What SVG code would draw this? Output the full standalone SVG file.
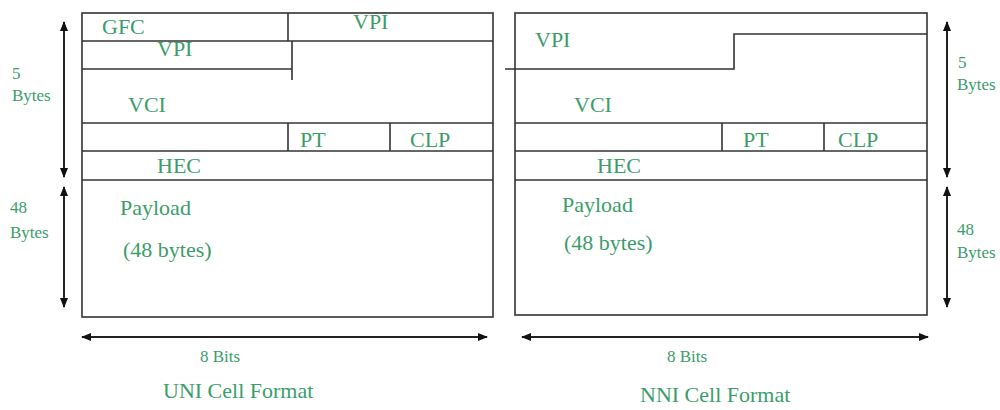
<svg xmlns="http://www.w3.org/2000/svg" width="1000" height="410" viewBox="0 0 1000 410">
<style>
.ln{stroke:#333;stroke-width:1.6;fill:none}
.ar{stroke:#222;stroke-width:2;fill:none}
.t{font-family:"Liberation Serif","DejaVu Serif",serif;fill:#3a9d6a;font-size:22px}
.s{font-family:"Liberation Serif","DejaVu Serif",serif;fill:#3a9d6a;font-size:17px}
.c{font-family:"Liberation Serif","DejaVu Serif",serif;fill:#3a9d6a;font-size:22px}
</style>
<defs>
<marker id="ah" viewBox="0 0 10 10" refX="9" refY="5" markerWidth="5" markerHeight="5" orient="auto-start-reverse" markerUnits="strokeWidth">
<path d="M0,1 L10,5 L0,9 z" fill="#111"/>
</marker>
</defs>
<rect width="1000" height="410" fill="#fff"/>
<g id="uni">
<rect class="ln" x="82" y="13" width="411" height="304"/>
<line class="ln" x1="82" y1="41" x2="493" y2="41"/>
<line class="ln" x1="288" y1="13" x2="288" y2="41"/>
<line class="ln" x1="82" y1="69" x2="292" y2="69"/>
<line class="ln" x1="292" y1="41" x2="292" y2="80"/>
<line class="ln" x1="82" y1="123" x2="493" y2="123"/>
<line class="ln" x1="288" y1="123" x2="288" y2="151"/>
<line class="ln" x1="390" y1="123" x2="390" y2="151"/>
<line class="ln" x1="82" y1="151" x2="493" y2="151"/>
<line class="ln" x1="82" y1="180" x2="493" y2="180"/>
<text class="t" x="102" y="34">GFC</text>
<text class="t" x="353" y="29">VPI</text>
<text class="t" x="157" y="56">VPI</text>
<text class="t" x="128" y="112">VCI</text>
<text class="t" x="300" y="147">PT</text>
<text class="t" x="410" y="147">CLP</text>
<text class="t" x="157" y="173">HEC</text>
<text class="t" x="120" y="215">Payload</text>
<text class="t" x="123" y="257">(48 bytes)</text>
</g>
<g id="nni">
<rect class="ln" x="515" y="13" width="412" height="302"/>
<polyline class="ln" points="505,69 734,69 734,34 927,34"/>
<line class="ln" x1="515" y1="123" x2="927" y2="123"/>
<line class="ln" x1="722" y1="123" x2="722" y2="151"/>
<line class="ln" x1="824" y1="123" x2="824" y2="151"/>
<line class="ln" x1="515" y1="151" x2="927" y2="151"/>
<line class="ln" x1="515" y1="180" x2="927" y2="180"/>
<text class="t" x="535" y="47">VPI</text>
<text class="t" x="574" y="112">VCI</text>
<text class="t" x="743" y="147">PT</text>
<text class="t" x="838" y="147">CLP</text>
<text class="t" x="597" y="173">HEC</text>
<text class="t" x="562" y="212">Payload</text>
<text class="t" x="564" y="250">(48 bytes)</text>
</g>
<g id="connectors">
<line class="ar" x1="64" y1="22" x2="64" y2="177" marker-start="url(#ah)" marker-end="url(#ah)"/>
<line class="ar" x1="64" y1="187" x2="64" y2="307" marker-start="url(#ah)" marker-end="url(#ah)"/>
<line class="ar" x1="947" y1="22" x2="947" y2="177" marker-start="url(#ah)" marker-end="url(#ah)"/>
<line class="ar" x1="947" y1="187" x2="947" y2="307" marker-start="url(#ah)" marker-end="url(#ah)"/>
<line class="ar" x1="82" y1="337" x2="487" y2="337" marker-start="url(#ah)" marker-end="url(#ah)"/>
<line class="ar" x1="522" y1="337" x2="928" y2="337" marker-start="url(#ah)" marker-end="url(#ah)"/>
</g>
<g id="labels">
<text class="s" x="12" y="79">5</text>
<text class="s" x="12" y="101">Bytes</text>
<text class="s" x="10" y="213">48</text>
<text class="s" x="10" y="238">Bytes</text>
<text class="s" x="958" y="68">5</text>
<text class="s" x="957" y="90">Bytes</text>
<text class="s" x="957" y="235">48</text>
<text class="s" x="957" y="258">Bytes</text>
<text class="s" x="200" y="362">8 Bits</text>
<text class="s" x="667" y="362">8 Bits</text>
<text class="c" x="163" y="398">UNI Cell Format</text>
<text class="c" x="640" y="402">NNI Cell Format</text>
</g>
</svg>
